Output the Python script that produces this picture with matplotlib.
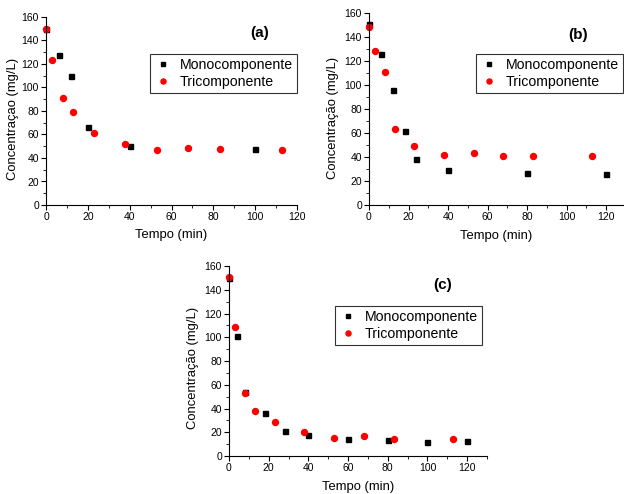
import matplotlib.pyplot as plt
from matplotlib.ticker import MultipleLocator

plt.rcParams['font.family'] = ['Liberation Sans', 'DejaVu Sans']

# (a)
t_mono_a = [0, 6, 12, 20, 40, 100]
c_mono_a = [150, 127.5, 110, 66, 50, 48]
t_tri_a = [0, 3, 8, 13, 23, 38, 53, 68, 83, 113]
c_tri_a = [150, 123, 91, 79, 61, 51.5, 47, 48.5, 48, 46.5]

# (b)
t_mono_b = [0, 6, 12, 18, 24, 40, 80, 120]
c_mono_b = [151, 125.5, 96, 62, 38, 29, 27, 26]
t_tri_b = [0, 3, 8, 13, 23, 38, 53, 68, 83, 113]
c_tri_b = [148, 128, 110.5, 63.5, 49, 42, 43, 40.5, 40.5, 40.5]

# (c)
t_mono_c = [0, 4, 8, 18, 28, 40, 60, 80, 100, 120]
c_mono_c = [150, 101, 53.5, 36, 21, 17.5, 14.5, 13.5, 12, 13]
t_tri_c = [0, 3, 8, 13, 23, 38, 53, 68, 83, 113]
c_tri_c = [150.5, 109, 53, 37.5, 28.5, 20, 15.5, 16.5, 14.5, 14]

W, H = 624, 494
fig = plt.figure(figsize=(W / 100, H / 100), dpi=100)


def painel(rect_px, xmax, tm, cm, tt, ct, letra, letra_px, leg_px, ylab, ylab_px, xlab_y):
    x0, y0, x1, y1 = rect_px
    ax = fig.add_axes([x0 / W, 1 - y1 / H, (x1 - x0) / W, (y1 - y0) / H])
    ax.plot(tm, cm, 's', color='black', ms=3.6, label='Monocomponente', clip_on=False)
    ax.plot(tt, ct, 'o', color='red', ms=4.3, label='Tricomponente', clip_on=False)
    ax.set_xlim(0, xmax)
    ax.set_ylim(0, 160)
    ax.set_xticks(range(0, 121, 20))
    ax.set_yticks(range(0, 161, 20))
    ax.xaxis.set_minor_locator(MultipleLocator(10))
    ax.yaxis.set_minor_locator(MultipleLocator(10))
    ax.spines['top'].set_visible(False)
    ax.spines['right'].set_visible(False)
    ax.tick_params(which='major', direction='out', length=3.5, width=0.8, labelsize=7.5, pad=1.5)
    ax.tick_params(which='minor', direction='out', length=2, width=0.6)
    ax.set_xlabel('Tempo (min)', fontsize=9.4)
    ax.set_ylabel(ylab, fontsize=9.4)
    # posição dos rótulos em pixels da figura
    ax.yaxis.set_label_coords((ylab_px[0] - x0) / (x1 - x0), (y1 - ylab_px[1]) / (y1 - y0))
    ax.yaxis.label.set_va('center')
    ax.xaxis.set_label_coords(0.5, (y1 - xlab_y) / (y1 - y0))
    ax.xaxis.label.set_va('center')
    fig.text(letra_px[0] / W, 1 - letra_px[1] / H, letra, fontsize=11, fontweight='bold',
             ha='center', va='center')
    leg = ax.legend(loc='upper right', bbox_to_anchor=(leg_px[0] / W, 1 - leg_px[1] / H),
                    bbox_transform=fig.transFigure, fontsize=10.2, frameon=True, fancybox=False,
                    edgecolor='black', borderpad=0.3, labelspacing=0.2, handletextpad=0.5,
                    handlelength=1.3, borderaxespad=0, markerscale=0.85)
    leg.get_frame().set_linewidth(0.8)
    return ax


painel((46, 17, 297, 205), 120, t_mono_a, c_mono_a, t_tri_a, c_tri_a, '(a)', (260, 33),
       (297, 54), 'Concentraçao (mg/L)', (13, 119), 235)
painel((369, 13, 623, 205), 128.6, t_mono_b, c_mono_b, t_tri_b, c_tri_b, '(b)', (578, 35),
       (623, 54), 'Concentração (mg/L)', (333, 118), 236)
painel((229, 266, 487, 456), 130, t_mono_c, c_mono_c, t_tri_c, c_tri_c, '(c)', (443, 285),
       (482, 306), 'Concentração (mg/L)', (193, 368), 487)

fig.savefig('out.png', dpi=100)
